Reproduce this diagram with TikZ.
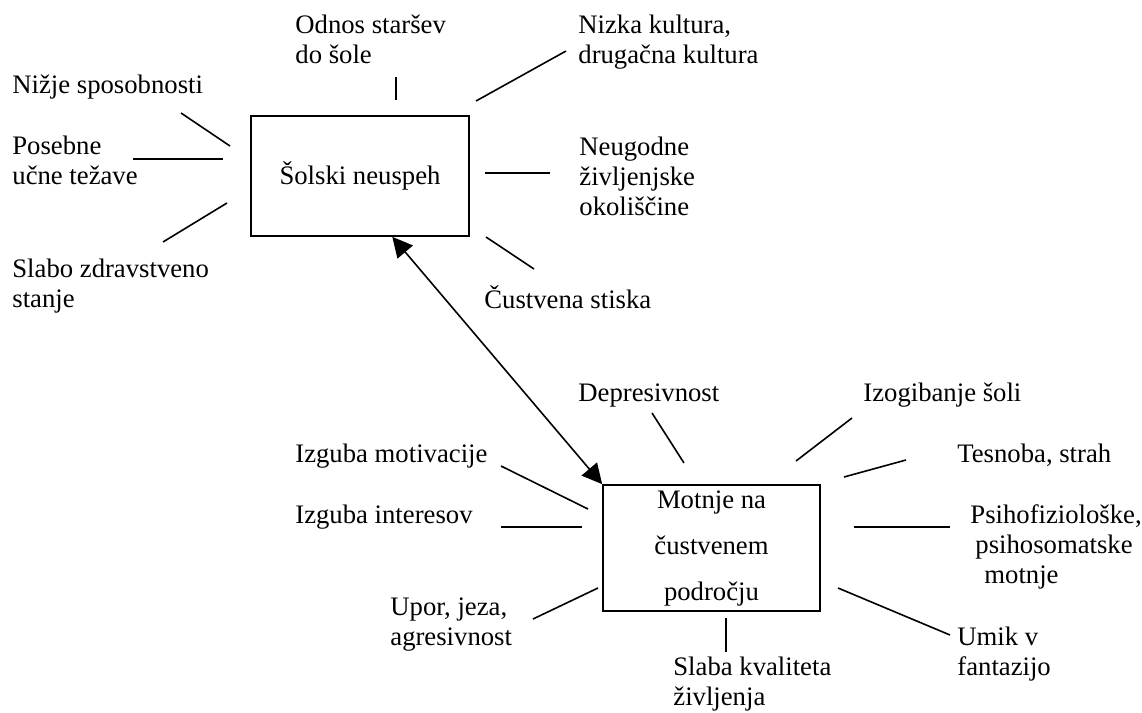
\documentclass[tikz,border=0pt]{standalone}
\usepackage{fontspec}
\setmainfont{Liberation Serif}
\usetikzlibrary{arrows.meta,calc}
\begin{document}
\begin{tikzpicture}[x=0.5pt,y=-0.5pt,
  lbl/.style={inner sep=0pt, anchor=base west, align=left, font=\fontsize{13.35}{15}\selectfont},
  box/.style={draw, line width=0.8pt, inner sep=0pt, font=\fontsize{13.35}{15}\selectfont},
  spoke/.style={line width=0.8pt},
  biarrow/.style={line width=0.8pt, {Triangle[length=10pt,width=10pt]}-{Triangle[length=10pt,width=10pt]}}]
\path[use as bounding box] (0,0) rectangle (1142,713);

% central boxes
\node[box, minimum width=109pt, minimum height=60pt] (b1) at (360,176) {Šolski neuspeh};
\node[box, minimum width=108.5pt, minimum height=63pt, align=center,
      font=\fontsize{13.35}{23}\selectfont] (b2) at (711.5,548) {Motnje na\\čustvenem\\področju};

% labels around box 1 (positioned at the baseline of their last line)
\node[lbl] (odnos) at (295,63) {Odnos staršev\\do šole};
\node[lbl] (nizka) at (578,63) {Nizka kultura,\\drugačna kultura};
\node[lbl] (nizje) at (12,93) {Nižje sposobnosti};
\node[lbl] (posebne) at (12,184) {Posebne\\učne težave};
\node[lbl] (slabo) at (12,307) {Slabo zdravstveno\\stanje};
\node[lbl] (neugodne) at (579,215) {Neugodne\\življenjske\\okoliščine};
\node[lbl] (custvena) at (484,308) {Čustvena stiska};

% labels around box 2
\node[lbl] (depres) at (578,401) {Depresivnost};
\node[lbl] (izogib) at (863,401) {Izogibanje šoli};
\node[lbl] (tesnoba) at (957,462) {Tesnoba, strah};
\node[lbl] (psiho) at (970,583) {Psihofiziološke,\\\hspace*{2.5pt}psihosomatske\\\hspace*{7pt}motnje};
\node[lbl] (umik) at (957,675) {Umik v\\fantazijo};
\node[lbl] (slabak) at (673,705) {Slaba kvaliteta\\življenja};
\node[lbl] (motiv) at (295,462) {Izguba motivacije};
\node[lbl] (inter) at (295,523) {Izguba interesov};
\node[lbl] (upor) at (390,645) {Upor, jeza,\\agresivnost};

% spokes (free lines between box and label)
\foreach \n/\ax/\ay/\bx/\by in {
  odnos/396/100/396/77,
  nizje/230/146/181/113,
  posebne/223/159/133/159,
  slabo/227/203/163/242,
  nizka/476/101/566/51,
  neugodne/485/173/550/173,
  custvena/486/237/534/269,
  depres/684/463/652/413,
  izogib/796/461/852/418,
  tesnoba/844/477/906/460,
  psiho/854/527/950/527,
  umik/838/588/950/635,
  slabak/726/618/726/652,
  motiv/588/509/501/466,
  inter/582/527/501/527,
  upor/598/588/533/619}{
  \coordinate (\n-a) at (\ax,\ay);
  \coordinate (\n-b) at (\bx,\by);
  \draw[spoke] (\n-a) -- (\n-b);
}

% double-headed arrow between the boxes
\draw[biarrow] ($(b1.south west)!0.647!(b1.south east)$) -- (b2.north west);
\end{tikzpicture}
\end{document}
